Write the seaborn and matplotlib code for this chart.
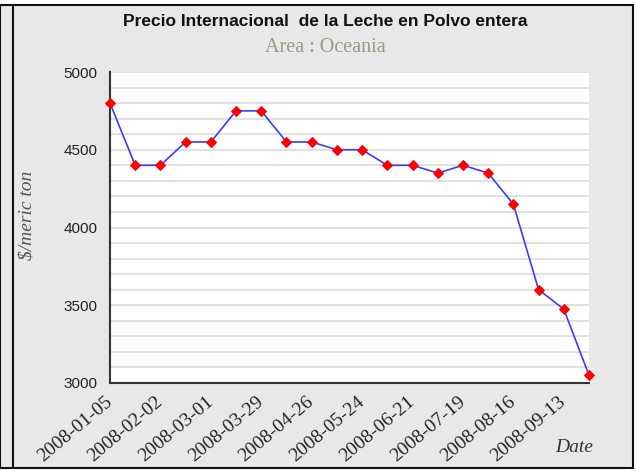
import pandas as pd
import matplotlib
matplotlib.use("Agg")
import matplotlib.pyplot as plt
import seaborn as sns
from matplotlib.patches import Rectangle
from matplotlib.lines import Line2D

# Biweekly price data
dates = ["2008-01-05", "2008-01-19", "2008-02-02", "2008-02-16", "2008-03-01",
         "2008-03-15", "2008-03-29", "2008-04-12", "2008-04-26", "2008-05-10",
         "2008-05-24", "2008-06-07", "2008-06-21", "2008-07-05", "2008-07-19",
         "2008-08-02", "2008-08-16", "2008-08-30", "2008-09-13", "2008-09-27"]
prices = [4800, 4400, 4400, 4550, 4550, 4750, 4750, 4550, 4550, 4500,
          4500, 4400, 4400, 4350, 4400, 4350, 4150, 3600, 3475, 3050]

title = "Precio Internacional  de la Leche en Polvo entera"
subtitle = "Area : Oceania"
ylabel = "$/meric ton"
xlabel = "Date"

df = pd.DataFrame({"idx": range(len(dates)), "date": dates, "price": prices})

sns.set_style("white")
plt.rcParams["font.family"] = ["Liberation Sans", "DejaVu Sans"]
SERIF = ["Liberation Serif", "DejaVu Serif"]

fig = plt.figure(figsize=(6.36, 4.71), dpi=100, facecolor="white")

# outer gray frame
fig.patches.append(Rectangle((0, 1 - 468 / 471), 633 / 636, 463 / 471,
                             transform=fig.transFigure, facecolor="#e8e8e8",
                             edgecolor="#111111", linewidth=1.5, zorder=-2))
fig.lines.append(Line2D([13 / 636, 13 / 636], [1 - 468 / 471, 1 - 5 / 471],
                        transform=fig.transFigure, color="#111111", linewidth=1.5,
                        zorder=-1))

ax = fig.add_axes([110 / 636, 1 - 383 / 471, 479 / 636, 311 / 471])
ax.set_facecolor("white")

sns.lineplot(data=df, x="idx", y="price", ax=ax, color="#3b3bff", linewidth=1.2,
             marker="D", markersize=5, markerfacecolor="red", markeredgecolor="red",
             zorder=3, clip_on=False)

ax.set_xlim(0, len(dates) - 1)
ax.set_ylim(3000, 5000)

# gridlines every 100
ax.set_yticks(range(3000, 5001, 500))
ax.set_yticks(range(3000, 5001, 100), minor=True)
ax.grid(axis="y", which="both", color="#dcdcdc", linewidth=1.2)
ax.grid(axis="x", visible=False)
ax.set_axisbelow(True)

tick_pos = list(range(0, len(dates), 2))
ax.set_xticks(tick_pos)
ax.set_xticklabels([dates[i] for i in tick_pos], rotation=40, ha="right", va="center",
                   rotation_mode="anchor", family=SERIF, fontsize=14, color="#222222")
ax.tick_params(axis="x", direction="in", length=7, width=1.2, color="#333333", pad=12)
ax.tick_params(axis="y", which="major", direction="in", length=6, width=1.2,
               color="#333333", labelsize=11, labelcolor="#222222", pad=9)
ax.tick_params(axis="y", which="minor", direction="in", length=4, width=1.0, color="#333333")

for side in ["top", "right"]:
    ax.spines[side].set_visible(False)
for side in ["left", "bottom"]:
    ax.spines[side].set_color("#333333")
    ax.spines[side].set_linewidth(1.5)

ax.set_xlabel("")
ax.set_ylabel("")

fig.text(325 / 636, 1 - 22 / 471, title, ha="center", va="center",
         fontsize=12.5, fontweight="bold", color="#111111")
fig.text(325 / 636, 1 - 47 / 471, subtitle, ha="center", va="center",
         fontsize=14.5, family=SERIF, color="#999988")
fig.text(27 / 636, 1 - 215 / 471, ylabel, ha="center", va="center", rotation=90,
         fontsize=14, family=SERIF, style="italic", color="#555555")
fig.text(593 / 636, 1 - 447 / 471, xlabel, ha="right", va="center",
         fontsize=14, family=SERIF, style="italic", color="#333333")

fig.savefig("out.png", dpi=100, facecolor="white")
